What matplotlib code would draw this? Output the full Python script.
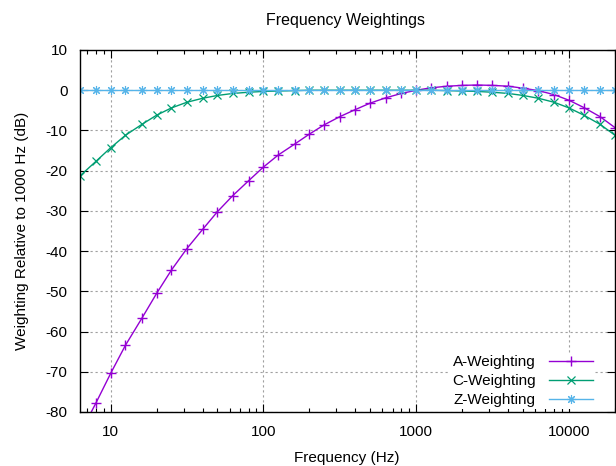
import matplotlib
matplotlib.use("Agg")
import matplotlib.pyplot as plt
from matplotlib.ticker import LogLocator, NullFormatter, FixedLocator

plt.rcParams['font.family'] = ['Liberation Sans', 'DejaVu Sans']
plt.rcParams['font.size'] = 11
plt.rcParams['axes.unicode_minus'] = False

# third-octave band centre frequencies (Hz)
freq = [6.3, 8, 10, 12.5, 16, 20, 25, 31.5, 40, 50, 63, 80, 100, 125, 160,
        200, 250, 315, 400, 500, 630, 800, 1000, 1250, 1600, 2000, 2500,
        3150, 4000, 5000, 6300, 8000, 10000, 12500, 16000, 20000]

a_weight = [-85.4, -77.8, -70.4, -63.4, -56.7, -50.5, -44.7, -39.4, -34.6,
            -30.2, -26.2, -22.5, -19.1, -16.1, -13.4, -10.9, -8.6, -6.6,
            -4.8, -3.2, -1.9, -0.8, 0.0, 0.6, 1.0, 1.2, 1.3, 1.2, 1.0, 0.5,
            -0.1, -1.1, -2.5, -4.3, -6.6, -9.3]

c_weight = [-21.3, -17.7, -14.3, -11.2, -8.5, -6.2, -4.4, -3.0, -2.0, -1.3,
            -0.8, -0.5, -0.3, -0.2, -0.1, 0.0, 0.0, 0.0, 0.0, 0.0, 0.0, 0.0,
            0.0, 0.0, -0.1, -0.2, -0.3, -0.5, -0.8, -1.3, -2.0, -3.0, -4.4,
            -6.2, -8.5, -11.2]

z_weight = [0.0] * len(freq)

fig = plt.figure(figsize=(6.16, 4.66), dpi=100)
ax = fig.add_axes([80/616, 1-412/466, 535/616, 362/466])

ax.plot(freq, a_weight, color='#9400D3', lw=1, marker='+', ms=7, mew=1,
        label='A-Weighting')
ax.plot(freq, c_weight, color='#009E73', lw=1, marker='x', ms=5.5, mew=0.9,
        label='C-Weighting')
ax.plot(freq, z_weight, color='#56B4E9', lw=1, marker=(8, 2, 0), ms=6.5, mew=0.8,
        label='Z-Weighting')

ax.set_xscale('log')
ax.set_xlim(6.3, 20000)
ax.set_ylim(-80, 10)
ax.set_yticks(range(-80, 11, 10))
ax.xaxis.set_major_locator(FixedLocator([10, 100, 1000, 10000]))
ax.set_xticklabels(['10', '100', '1000', '10000'])
ax.xaxis.set_minor_locator(LogLocator(base=10, subs=range(2, 10)))
ax.xaxis.set_minor_formatter(NullFormatter())

ax.tick_params(which='both', direction='in', top=True, right=True)
ax.tick_params(which='major', length=6, width=0.8)
ax.tick_params(axis='x', which='major', pad=9)
ax.tick_params(axis='y', which='major', pad=9)
ax.tick_params(which='minor', length=3, width=0.8)

ax.grid(True, which='major', color='#a0a0a0', ls=(0, (2, 2.5)), lw=0.8)
ax.set_axisbelow(True)
for s in ax.spines.values():
    s.set_linewidth(1)

fig.text(346/616, 1-20/466, 'Frequency Weightings', ha='center', va='center',
         fontsize=11.5)
fig.text(347/616, 1-458/466, 'Frequency (Hz)', ha='center', va='center')
fig.text(22/616, 1-231/466, 'Weighting Relative to 1000 Hz (dB)',
         ha='center', va='center', rotation=90)

leg = ax.legend(loc='lower right', bbox_to_anchor=(595/616, 57/466),
                bbox_transform=fig.transFigure, markerfirst=False,
                handlelength=2.9, handletextpad=0.9, labelspacing=0.33,
                borderpad=0.1, borderaxespad=0, frameon=True, fancybox=False)
leg.get_frame().set_facecolor('white')
leg.get_frame().set_edgecolor('none')
leg.get_frame().set_alpha(1)

fig.savefig('out.png', dpi=100)
